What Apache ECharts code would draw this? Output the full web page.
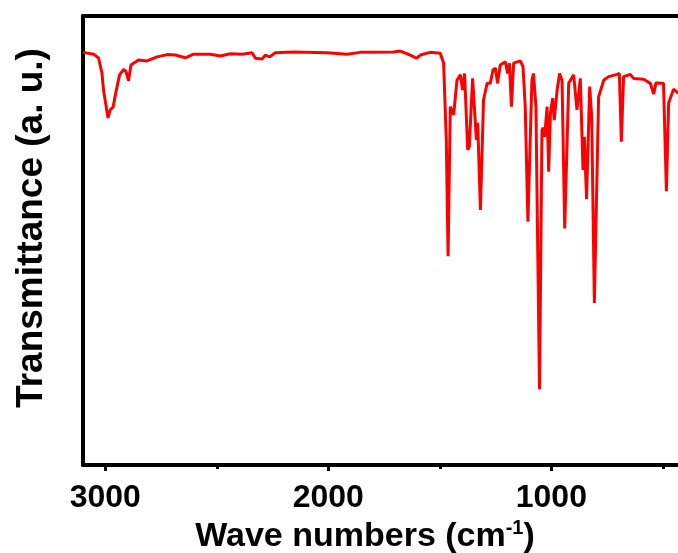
<!DOCTYPE html>
<html>
<head>
<meta charset="utf-8">
<script src="https://cdn.jsdelivr.net/npm/echarts@6/dist/echarts.min.js"></script>
<style>
  html, body { margin: 0; padding: 0; background: #fff; }
  #chart { width: 678px; height: 553px; }
</style>
</head>
<body>
<div id="chart"></div>
<script>
// wave numbers (cm-1), high to low
const waveNumbers = [
  3100, 3052, 3030, 3015, 3008, 2988, 2978, 2965, 2955, 2948, 2936, 2918, 2907, 2896, 2885,
  2851, 2813, 2768, 2723, 2686, 2641, 2604, 2529, 2484, 2439, 2387, 2342, 2327, 2297, 2283,
  2263, 2238, 2156, 2006, 1916, 1857, 1707, 1677, 1632, 1605, 1587, 1543, 1498, 1483, 1471,
  1463, 1453, 1445, 1438, 1423, 1408, 1398, 1389, 1375, 1368, 1353, 1336, 1330, 1318, 1304,
  1288, 1274, 1261, 1251, 1241, 1229, 1206, 1196, 1188, 1179, 1169, 1139, 1127, 1117, 1105,
  1087, 1080, 1069, 1053, 1042, 1036, 1030, 1019, 1012, 1004, 994, 987, 974, 963, 952,
  940, 922, 900, 885, 870, 858, 852, 842, 828, 819, 807, 788, 765, 743, 705,
  695, 686, 676, 646, 631, 586, 556, 541, 531, 497, 484, 474, 452, 431
];
// transmittance (a. u.), 0 = bottom of frame, 100 = top
const transmittance = [
  91.9, 91.5, 90.6, 87.3, 83.5, 77.3, 79.1, 79.7, 82.4, 82.0, 86.9, 88.1, 87.6, 85.6, 89.1,
  90.2, 90.0, 90.9, 91.4, 91.3, 90.7, 91.5, 91.5, 91.1, 91.6, 91.5, 91.8, 90.6, 90.4, 91.3,
  90.9, 91.8, 92.0, 91.8, 91.5, 91.9, 92.0, 92.2, 91.3, 90.6, 91.3, 91.9, 91.7, 89.5, 72.4,
  46.5, 79.8, 80.2, 78.0, 85.7, 86.9, 83.5, 87.2, 70.2, 70.8, 86.1, 72.4, 76.2, 56.8, 81.3,
  85.0, 85.0, 88.0, 88.4, 85.0, 89.1, 89.8, 87.2, 89.5, 79.8, 89.5, 90.0, 88.7, 79.8, 54.2,
  85.7, 87.2, 79.8, 16.9, 74.6, 75.1, 73.1, 79.8, 65.3, 78.4, 81.7, 76.8, 83.5, 87.2, 85.7,
  52.7, 85.0, 86.9, 79.1, 86.1, 65.7, 73.1, 59.2, 84.3, 77.6, 36.1, 82.0, 85.7, 86.5, 87.0,
  87.2, 72.0, 86.5, 87.0, 86.1, 85.9, 85.0, 82.6, 85.1, 85.0, 61.0, 80.6, 83.7, 82.8
];
const majorTicks = [3000, 2000, 1000];
const minorTicks = [2500, 1500, 500];
const allTicks = [3000, 2500, 2000, 1500, 1000, 500];

let points = [];
for (let i = 0; i < waveNumbers.length; i++) {
    points.push([waveNumbers[i], transmittance[i]]);
}

let myChart = echarts.init(document.getElementById('chart'));
let font = '"Liberation Sans", Arial, sans-serif';
let xRange = { type: 'value', inverse: true, min: 432, max: 3100, splitLine: { show: false } };

let option = {
    animation: false,
    backgroundColor: '#fff',
    // frame runs past the right edge of the picture, as in the reference
    grid: { left: 83, top: 16, right: 0, bottom: 88, containLabel: false },
    xAxis: [
        Object.assign({}, xRange, {
            position: 'bottom',
            axisLine: { show: true, lineStyle: { color: '#000', width: 4 } },
            axisTick: { show: true, length: 6, customValues: majorTicks,
                lineStyle: { color: '#000', width: 3 } },
            axisLabel: {
                customValues: majorTicks,
                margin: 17,
                fontSize: 32,
                fontWeight: 'bold',
                fontFamily: font,
                color: '#000',
                formatter: function (v) { return String(v); }
            }
        }),
        Object.assign({}, xRange, {
            position: 'bottom',
            axisLine: { show: false },
            axisTick: { show: true, length: 4, customValues: minorTicks,
                lineStyle: { color: '#000', width: 3 } },
            axisLabel: { show: false }
        }),
        Object.assign({}, xRange, {
            position: 'top',
            axisLine: { show: true, lineStyle: { color: '#000', width: 4 } },
            axisTick: { show: true, length: 2, customValues: allTicks,
                lineStyle: { color: '#000', width: 2 } },
            axisLabel: { show: false }
        })
    ],
    yAxis: {
        type: 'value',
        min: 0,
        max: 100,
        axisLine: { show: true, lineStyle: { color: '#000', width: 4 } },
        axisTick: { show: false },
        axisLabel: { show: false },
        splitLine: { show: false }
    },
    graphic: [
        {
            type: 'text',
            x: 365,
            y: 556,
            style: {
                text: 'Wave numbers (cm{sup|-1})',
                textAlign: 'center',
                textVerticalAlign: 'bottom',
                fontSize: 34,
                fontWeight: 'bold',
                fontFamily: font,
                fill: '#000',
                rich: {
                    sup: { fontSize: 20, fontWeight: 'bold', fontFamily: font,
                        verticalAlign: 'top', padding: [0, 0, 18, 0] }
                }
            }
        },
        {
            type: 'text',
            x: 32,
            y: 228,
            rotation: Math.PI / 2,
            style: {
                text: 'Transmittance (a. u.)',
                textAlign: 'center',
                textVerticalAlign: 'middle',
                fontSize: 37,
                fontWeight: 'bold',
                fontFamily: font,
                fill: '#000'
            }
        }
    ],
    series: [
        {
            type: 'line',
            data: points,
            showSymbol: false,
            smooth: false,
            clip: true,
            lineStyle: { color: '#ff0000', width: 3 }
        }
    ]
};
myChart.setOption(option);
</script>
</body>
</html>
